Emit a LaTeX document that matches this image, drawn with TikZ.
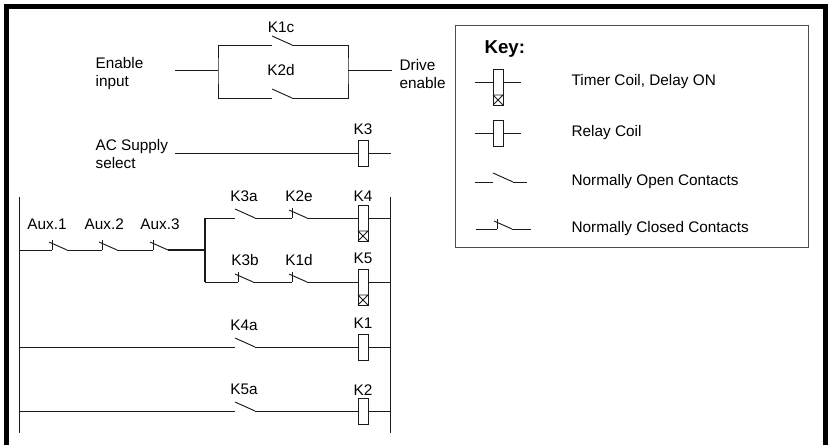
\documentclass[tikz,border=0pt]{standalone}
\usepackage{fontspec}
\setmainfont{Liberation Sans}
\usepackage{tikz}
\usetikzlibrary{
    positioning,
    calc
}
\definecolor{ldwire}{HTML}{1A1A1A}
\definecolor{ldframe}{HTML}{000000}
\definecolor{ldkey}{HTML}{4D4D4D}
\tikzset{
    % Ordinary ladder wire
    wire/.style={
        draw=ldwire,
        line width=0.7pt
    },
    % Heavier branch wire
    heavywire/.style={
        draw=ldwire,
        line width=1.4pt
    },
    % Outer figure frame
    outerframe/.style={
        draw=ldframe,
        line width=3.75pt
    },
    % Key frame
    keyframe/.style={
        draw=ldkey,
        line width=0.75pt
    },
    % Contact and coil labels
    lbl/.style={
        font=\fontsize{11.5}{13.5}\selectfont,
        inner sep=1pt,
        text=black
    },
    % Signal names beside the wires
    sidetext/.style={
        lbl,
        align=left,
        anchor=west
    },
    % Key heading
    keytitle/.style={
        font=\fontsize{14}{16}\selectfont\bfseries,
        inner sep=1pt,
        anchor=west
    },
    % Normally open contact
    nocontact/.pic={
        \coordinate (-in) at (0,0);
        \coordinate (-out) at (20,0);
        \coordinate (-mid) at (9,-9);
        \draw[wire] (0,-9) -- (20,0);
    },
    % Normally closed contact
    nccontact/.pic={
        \coordinate (-in) at (0,0);
        \coordinate (-out) at (15,0);
        \coordinate (-mid) at (7,-9);
        \draw[wire] (0,0) -- (0,-10);
        \draw[wire] (-3,-8) -- (15,0);
    },
    % Relay coil
    relaycoil/.pic={
        \coordinate (-in) at (0,0);
        \coordinate (-out) at (10,0);
        \coordinate (-top) at (5,-13);
        \draw[wire, fill=white] (0,-13) rectangle (10,13);
    },
    % Timer coil, delay on
    timercoil/.pic={
        \coordinate (-in) at (0,0);
        \coordinate (-out) at (10,0);
        \coordinate (-top) at (5,-13);
        \draw[wire, fill=white] (0,-13) rectangle (10,23);
        \draw[wire] (0,13) -- (10,13) (0,13) -- (10,23) (0,23) -- (10,13);
    }
}

\begin{document}
\begin{tikzpicture}[x=0.75pt, y=-0.75pt]

    \useasboundingbox (0,0) rectangle (829,445);

    % Outer frame (open at the bottom)
    \draw[outerframe] (6.5,445) -- (6.5,6.5) -- (825.5,6.5) -- (825.5,445);

    % Enable circuit
    \coordinate (en-in) at (175,70);
    \coordinate (en-l) at (218,70);
    \coordinate (en-r) at (348,70);
    \coordinate (en-out) at (392,70);
    \pic (k1c) at (272,45) {nocontact};
    \pic (k2d) at (272,98) {nocontact};
    \draw[wire] (en-in) -- (en-l);
    \draw[wire] (k1c-in) -| (en-l) |- (k2d-in);
    \draw[wire] (k1c-out) -| (en-r) |- (k2d-out);
    \draw[wire] (en-r) -- (en-out);
    \node[lbl, above=1.5pt of k1c-mid] (k1c-lbl) {K1c};
    \node[lbl] (k2d-lbl) at (k2d-mid |- en-l) {K2d};
    \node[sidetext] (en-txt) at (94,74) {Enable\\input};
    \node[sidetext] (drv-txt) at (398,74) {Drive\\enable};

    % AC supply select
    \coordinate (ac-in) at (175,153);
    \coordinate (ac-out) at (391,153);
    \pic (k3) at (358,153) {relaycoil};
    \draw[wire] (ac-in) -- (k3-in) (k3-out) -- (ac-out);
    \node[lbl, above=3pt of k3-top] (k3-lbl) {K3};
    \node[sidetext] (ac-txt) at (94,154) {AC Supply\\select};

    % Ladder rails
    \coordinate (rail-l-top) at (19,197);
    \coordinate (rail-l-bot) at (19,433);
    \coordinate (rail-r-top) at (390,197);
    \coordinate (rail-r-bot) at (390,433);
    \draw[wire] (rail-l-top) -- (rail-l-bot);
    \draw[wire] (rail-r-top) -- (rail-r-bot);

    % Aux chain
    \pic (aux1) at (52,250) {nccontact};
    \pic (aux2) at (102,250) {nccontact};
    \pic (aux3) at (153,250) {nccontact};
    \coordinate (br) at (205,250);
    \draw[wire] (rail-l-top |- aux1-in) -- (aux1-in) (aux1-out) -- (aux2-in) (aux2-out) -- (aux3-in);
    \draw[heavywire] (aux3-out) -- (br);
    \node[lbl, above=7pt of aux1-mid, xshift=-9pt] (aux1-lbl) {Aux.1};
    \node[lbl, above=7pt of aux2-mid, xshift=-3.5pt] (aux2-lbl) {Aux.2};
    \node[lbl, above=7pt of aux3-mid] (aux3-lbl) {Aux.3};

    % K4 and K5 branches
    \pic (k3a) at (235,218) {nocontact};
    \pic (k2e) at (292,218) {nccontact};
    \pic (k4) at (358,218) {timercoil};
    \pic (k3b) at (238,282) {nccontact};
    \pic (k1d) at (292,282) {nccontact};
    \pic (k5) at (358,282) {timercoil};
    \draw[heavywire] (br |- k3a-in) -- (br |- k3b-in);
    \draw[wire] (br |- k3a-in) -- (k3a-in) (k3a-out) -- (k2e-in) (k2e-out) -- (k4-in) (k4-out) -- (rail-r-top |- k4-out);
    \draw[wire] (br |- k3b-in) -- (k3b-in) (k3b-out) -- (k1d-in) (k1d-out) -- (k5-in) (k5-out) -- (rail-r-top |- k5-out);
    \node[lbl, above=4pt of k3a-mid] (k3a-lbl) {K3a};
    \node[lbl, above=4pt of k2e-mid] (k2e-lbl) {K2e};
    \node[lbl, above=4pt of k3b-mid] (k3b-lbl) {K3b};
    \node[lbl, above=4pt of k1d-mid] (k1d-lbl) {K1d};
    \node[lbl, above=1.5pt of k4-top] (k4-lbl) {K4};
    \node[lbl, above=3pt of k5-top] (k5-lbl) {K5};

    % K1 and K2 rungs
    \pic (k4a) at (235,347) {nocontact};
    \pic (k1) at (358,347) {relaycoil};
    \pic (k5a) at (235,411) {nocontact};
    \pic (k2) at (358,411) {relaycoil};
    \draw[wire] (rail-l-top |- k4a-in) -- (k4a-in) (k4a-out) -- (k1-in) (k1-out) -- (rail-r-top |- k1-out);
    \draw[wire] (rail-l-top |- k5a-in) -- (k5a-in) (k5a-out) -- (k2-in) (k2-out) -- (rail-r-top |- k2-out);
    \node[lbl, above=4pt of k4a-mid] (k4a-lbl) {K4a};
    \node[lbl, above=4pt of k5a-mid] (k5a-lbl) {K5a};
    \node[lbl, above=3pt of k1-top] (k1-lbl) {K1};
    \node[lbl, above=0.5pt of k2-top] (k2-lbl) {K2};

    % Key
    \draw[keyframe] (455,26) rectangle (808,248);
    \node[keytitle] (key-title) at (483,49) {Key:};

    \pic (key-tc) at (493,82) {timercoil};
    \coordinate (key-tc-l) at (475,82);
    \coordinate (key-tc-r) at (521,82);
    \draw[wire] (key-tc-l) -- (key-tc-in) (key-tc-out) -- (key-tc-r);
    \node[sidetext] (key-tc-txt) at (570,82) {Timer Coil, Delay ON};

    \pic (key-rc) at (493,133) {relaycoil};
    \coordinate (key-rc-l) at (475,133);
    \coordinate (key-rc-r) at (521,133);
    \draw[wire] (key-rc-l) -- (key-rc-in) (key-rc-out) -- (key-rc-r);
    \node[sidetext] (key-rc-txt) at (570,133) {Relay Coil};

    \pic (key-no) at (493,182) {nocontact};
    \coordinate (key-no-l) at (475,182);
    \coordinate (key-no-r) at (527,182);
    \draw[wire] (key-no-l) -- (key-no-in) (key-no-out) -- (key-no-r);
    \node[sidetext] (key-no-txt) at (570,182) {Normally Open Contacts};

    \pic (key-nc) at (497,229) {nccontact};
    \coordinate (key-nc-l) at (476,229);
    \coordinate (key-nc-r) at (531,229);
    \draw[wire] (key-nc-l) -- (key-nc-in) (key-nc-out) -- (key-nc-r);
    \node[sidetext] (key-nc-txt) at (570,229) {Normally Closed Contacts};

\end{tikzpicture}
\end{document}
